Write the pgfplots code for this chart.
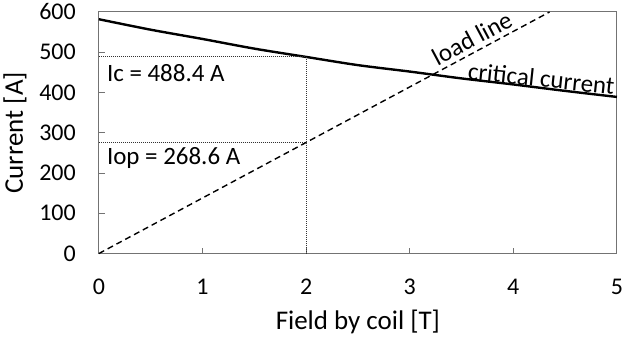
\documentclass[border=0pt]{standalone}
\usepackage{fontspec}
\setmainfont{Carlito}
\usepackage{pgfplots}
\pgfplotsset{compat=1.18}
\newcommand{\bigf}{\fontsize{24}{28}\selectfont}
\newcommand{\annf}{\fontsize{25}{29}\selectfont}
\newcommand{\labf}{\fontsize{27}{32}\selectfont}
\begin{document}
\begin{tikzpicture}
\begin{axis}[
  scale only axis, width=519pt, height=242pt,
  xmin=0, xmax=5, ymin=0, ymax=600,
  xtick={0,1,2,3,4,5}, ytick={0,100,200,300,400,500,600},
  tick align=inside, xtick pos=bottom, ytick pos=left,
  major tick length=6pt,
  axis line style={draw=black!55, line width=1pt},
  every tick/.style={black!55, line width=1pt},
  /pgf/number format/assume math mode=true,
  tick label style={font=\bigf, inner sep=0pt},
  xticklabel shift=25pt, yticklabel shift=23pt,
  xlabel={Field by coil [T]}, ylabel={Current [A]},
  label style={font=\labf, inner sep=0pt},
  xlabel style={at={(axis description cs:0.5,-0.231)}, anchor=north},
  ylabel style={at={(axis description cs:-0.162,0.5)}, anchor=center},
  clip=false,
]
\addplot[black, line width=2.4pt, smooth] coordinates {(0,582)(0.5,556)(1,533)(1.5,509)(2,488.4)(2.5,468)(3,452)(3.5,435)(4,420)(4.5,404)(5,389)};
\addplot[black, line width=1.4pt, dash pattern=on 6pt off 4pt] coordinates {(0,0)(4.35,600)};
\addplot[black!80, line width=0.9pt, dash pattern=on 1pt off 1pt] coordinates {(0,488.4)(2,488.4)(2,0)};
\addplot[black!80, line width=0.9pt, dash pattern=on 1pt off 1pt] coordinates {(0,277)(2,277)};
\node[anchor=north west, inner sep=0pt, font=\annf, yshift=-7pt] at (axis cs:0.077,488.4) {Ic = 488.4 A};
\node[anchor=north west, inner sep=0pt, font=\annf, yshift=-5pt] at (axis cs:0.077,277) {Iop = 268.6 A};
\node[inner sep=0pt, font=\annf, rotate=28] at (axis cs:3.6,535) {load line};
\node[inner sep=0pt, font=\annf, rotate=-6] at (axis cs:4.27,435) {critical current};
\coordinate (bbsw) at (rel axis cs:-0.1908,-0.3595);
\coordinate (bbne) at (rel axis cs:1.0096,1.0496);
\end{axis}
\path (bbsw) rectangle (bbne);
\end{tikzpicture}
\end{document}
